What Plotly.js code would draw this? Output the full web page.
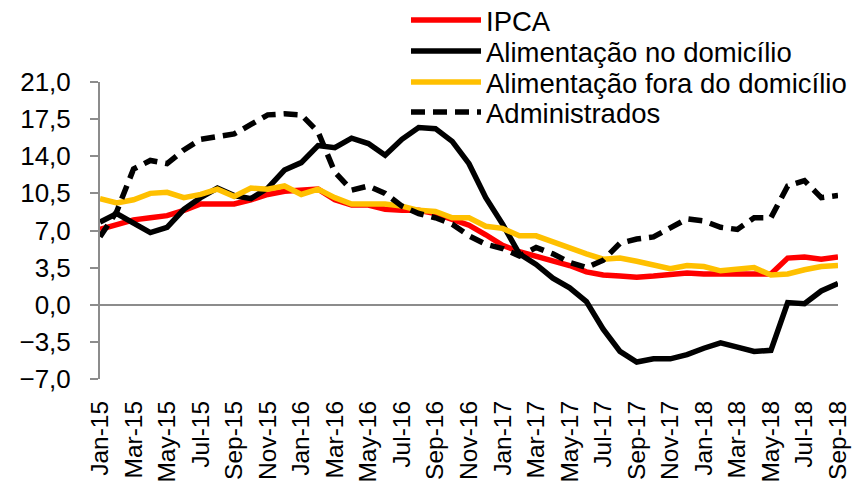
<!DOCTYPE html>
<html>
<head>
<meta charset="utf-8">
<script src="https://cdn.plot.ly/plotly-3.0.1.min.js"></script>
<style>
html,body{margin:0;padding:0;background:#fff;}
#chart{width:854px;height:484px;}
</style>
</head>
<body>
<div id="chart"></div>
<script>
const months = [
  'Jan-15','Feb-15','Mar-15','Apr-15','May-15','Jun-15','Jul-15','Aug-15','Sep-15','Oct-15','Nov-15','Dec-15',
  'Jan-16','Feb-16','Mar-16','Apr-16','May-16','Jun-16','Jul-16','Aug-16','Sep-16','Oct-16','Nov-16','Dec-16',
  'Jan-17','Feb-17','Mar-17','Apr-17','May-17','Jun-17','Jul-17','Aug-17','Sep-17','Oct-17','Nov-17','Dec-17',
  'Jan-18','Feb-18','Mar-18','Apr-18','May-18','Jun-18','Jul-18','Aug-18','Sep-18'
];
const tickLabels = months.filter((m, i) => i % 2 === 0);

const ipca = [
  7.1, 7.6, 8.0, 8.2, 8.4, 8.9, 9.5, 9.5, 9.5, 9.9, 10.4, 10.7,
  10.8, 10.9, 9.9, 9.4, 9.4, 9.0, 8.9, 8.9, 8.6, 8.1, 7.5, 6.6,
  5.6, 5.0, 4.6, 4.1, 3.7, 3.1, 2.8, 2.7, 2.6, 2.7, 2.8, 3.0,
  2.9, 2.9, 2.9, 2.9, 2.9, 4.4, 4.5, 4.3, 4.5
];
const alimDomicilio = [
  7.8, 8.6, 7.7, 6.8, 7.3, 9.0, 10.1, 11.0, 10.3, 10.0, 11.0, 12.7,
  13.4, 15.0, 14.8, 15.7, 15.2, 14.1, 15.6, 16.7, 16.6, 15.4, 13.3, 10.1,
  7.6, 4.8, 3.8, 2.5, 1.6, 0.3, -2.3, -4.4, -5.4, -5.1, -5.1, -4.7,
  -4.1, -3.6, -4.0, -4.4, -4.3, 0.2, 0.1, 1.3, 2.0
];
const alimFora = [
  10.0, 9.6, 9.9, 10.5, 10.6, 10.1, 10.4, 10.9, 10.2, 11.0, 10.9, 11.2,
  10.4, 10.9, 10.1, 9.5, 9.5, 9.5, 9.3, 8.9, 8.8, 8.2, 8.2, 7.4,
  7.2, 6.5, 6.5, 5.9, 5.4, 4.8, 4.3, 4.4, 4.1, 3.8, 3.4, 3.7,
  3.6, 3.2, 3.4, 3.5, 2.8, 2.9, 3.3, 3.6, 3.7
];
const administrados = [
  6.4, 8.8, 12.8, 13.6, 13.3, 14.6, 15.6, 15.9, 16.1, 17.0, 17.9, 18.0,
  17.9, 16.3, 12.5, 10.8, 11.2, 10.5, 9.3, 8.6, 8.2, 7.6, 6.5, 5.7,
  5.3, 4.6, 5.4, 4.8, 4.0, 3.5, 4.2, 5.8, 6.2, 6.4, 7.3, 8.1,
  7.9, 7.3, 7.1, 8.2, 8.2, 11.2, 11.7, 10.1, 10.3
];
const seriesNames = ['IPCA', 'Alimentação no domicílio', 'Alimentação fora do domicílio', 'Administrados'];

const FONT = 'Arial, "Liberation Sans", sans-serif';
const W = 854, H = 484;
const plotTop = 82, plotH = 297, plotL = 100, plotW = 738;
const marginB = H - plotTop - plotH;      // 105
const paperH = H - marginB;                // paper area reaches the top edge
const py = p => 1 - p / paperH;
const px = p => (p - plotL) / plotW;

const traces = [
  {y: ipca, name: seriesNames[0], line: {color: '#FF0000', width: 5.5}, legend: 'legend'},
  {y: alimDomicilio, name: seriesNames[1], line: {color: '#000000', width: 5.5}, legend: 'legend2'},
  {y: alimFora, name: seriesNames[2], line: {color: '#FFC000', width: 5.5}, legend: 'legend3'},
  {y: administrados, name: seriesNames[3], line: {color: '#000000', width: 5.5, dash: '14px,8px'}, legend: 'legend4'}
].map(t => Object.assign({x: months, type: 'scatter', mode: 'lines', hoverinfo: 'skip'}, t));

function leg(yPix) {
  return {
    x: px(406), y: py(yPix), xanchor: 'left', yanchor: 'middle',
    xref: 'paper', yref: 'paper',
    bgcolor: 'rgba(0,0,0,0)', borderwidth: 0,
    font: {family: FONT, size: 27.5, color: '#000'},
    itemwidth: 70
  };
}

const layout = {
  width: W, height: H,
  margin: {l: plotL, r: W - plotL - plotW, t: 0, b: marginB, pad: 0, autoexpand: false},
  paper_bgcolor: '#fff', plot_bgcolor: '#fff',
  font: {family: FONT, color: '#000'},
  showlegend: true,
  legend: leg(20), legend2: leg(51), legend3: leg(82), legend4: leg(112),
  xaxis: {
    type: 'category', range: [0, months.length - 1],
    tickmode: 'array', tickvals: tickLabels, ticktext: tickLabels,
    tickangle: -90, showgrid: false, zeroline: false, showline: false, ticks: '',
    tickfont: {family: FONT, size: 24.5, color: '#000'},
    ticklabelstandoff: 16, fixedrange: true
  },
  yaxis: {
    domain: [0, plotH / paperH],
    range: [-7, 21], dtick: 3.5, tick0: 0, tickformat: '.1f',
    showgrid: false, showline: true, linecolor: '#8c8c8c', linewidth: 2,
    ticks: 'outside', ticklen: 8, tickwidth: 2, tickcolor: '#8c8c8c',
    zeroline: true, zerolinecolor: '#8c8c8c', zerolinewidth: 2,
    tickfont: {family: FONT, size: 26, color: '#000'},
    ticklabelstandoff: 14, fixedrange: true
  },
  separators: ',.'
};

Plotly.newPlot('chart', traces, layout, {staticPlot: true, displayModeBar: false});
</script>
</body>
</html>
